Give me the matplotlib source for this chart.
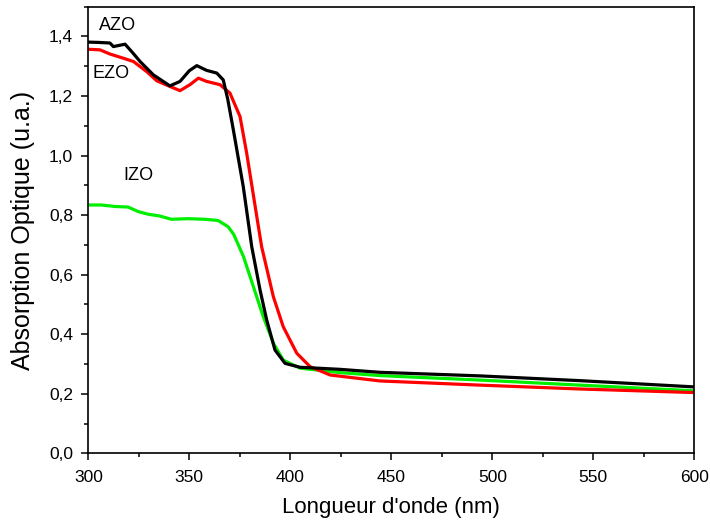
import matplotlib.pyplot as plt
from matplotlib.ticker import MultipleLocator, FuncFormatter

plt.rcParams['font.family'] = ['Liberation Sans', 'DejaVu Sans']

# AZO (black)
azo_x = [300, 305, 310.7, 312.4, 318.2, 322, 325.6, 332.2, 340.4, 345.4, 350,
         353.7, 358.6, 363.6, 366.8, 369, 371.8, 376.7, 380.9, 385.0, 388.3,
         392.4, 397.4, 404.8, 424.6, 444.4, 493.9, 543.4, 600]
azo_y = [1.381, 1.380, 1.378, 1.366, 1.374, 1.345, 1.316, 1.271, 1.234, 1.249,
         1.285, 1.302, 1.286, 1.277, 1.254, 1.19, 1.086, 0.896, 0.694, 0.549,
         0.448, 0.347, 0.302, 0.289, 0.282, 0.272, 0.260, 0.244, 0.223]

# EZO (red)
ezo_x = [300, 305.8, 310.7, 317.3, 322.3, 328.9, 333.9, 340.4, 345.4, 350.3,
         354.5, 358.6, 365.2, 370.1, 375.1, 378.4, 383.4, 385.8, 391.6, 396.5,
         403.2, 409.8, 419.7, 444.4, 493.9, 543.4, 600]
ezo_y = [1.357, 1.355, 1.341, 1.327, 1.316, 1.282, 1.251, 1.232, 1.218, 1.238,
         1.260, 1.249, 1.238, 1.210, 1.131, 1.008, 0.795, 0.694, 0.526, 0.425,
         0.336, 0.291, 0.263, 0.243, 0.229, 0.216, 0.204]

# IZO (green)
izo_x = [300, 306.4, 313.1, 319.7, 324.6, 329.6, 335.3, 341.1, 349.4, 357.6,
         364.2, 369.2, 372, 376.8, 381.7, 386.6, 391.6, 396.5, 404.8, 424.6,
         444.4, 493.9, 543.4, 600]
izo_y = [0.834, 0.834, 0.829, 0.827, 0.812, 0.803, 0.797, 0.786, 0.788, 0.786,
         0.782, 0.761, 0.735, 0.661, 0.560, 0.459, 0.370, 0.313, 0.286, 0.271,
         0.261, 0.246, 0.229, 0.210]


def comma(v, pos):
    return '{:.1f}'.format(v).replace('.', ',')


def main():
    fig = plt.figure(figsize=(7.1, 5.26), dpi=100)
    ax = fig.add_axes([0.1244, 0.1382, 0.8535, 0.8491])

    ax.plot(izo_x, izo_y, color='#00ee00', lw=2.3)
    ax.plot(ezo_x, ezo_y, color='red', lw=2.3)
    ax.plot(azo_x, azo_y, color='black', lw=2.3)

    ax.text(314.5, 1.436, 'AZO', fontsize=13, ha='center', va='center')
    ax.text(311.3, 1.277, 'EZO', fontsize=13, ha='center', va='center')
    ax.text(324.6, 0.932, 'IZO', fontsize=13, ha='center', va='center')

    ax.set_xlim(300, 600)
    ax.set_ylim(0, 1.5)
    ax.xaxis.set_major_locator(MultipleLocator(50))
    ax.xaxis.set_minor_locator(MultipleLocator(25))
    ax.yaxis.set_major_locator(MultipleLocator(0.2))
    ax.yaxis.set_minor_locator(MultipleLocator(0.1))
    ax.yaxis.set_major_formatter(FuncFormatter(comma))

    ax.tick_params(which='major', direction='out', length=5, width=1.1,
                   labelsize=12.5)
    ax.tick_params(which='minor', direction='out', length=3, width=1.1)
    ax.tick_params(axis='x', which='major', pad=7)
    ax.tick_params(axis='y', which='major', pad=6)
    for s in ax.spines.values():
        s.set_linewidth(1.2)

    ax.set_xlabel("Longueur d'onde (nm)", fontsize=16, labelpad=9)
    ax.set_ylabel('Absorption Optique (u.a.)', fontsize=18, labelpad=10)

    fig.savefig('out.png', dpi=100)


if __name__ == '__main__':
    main()
